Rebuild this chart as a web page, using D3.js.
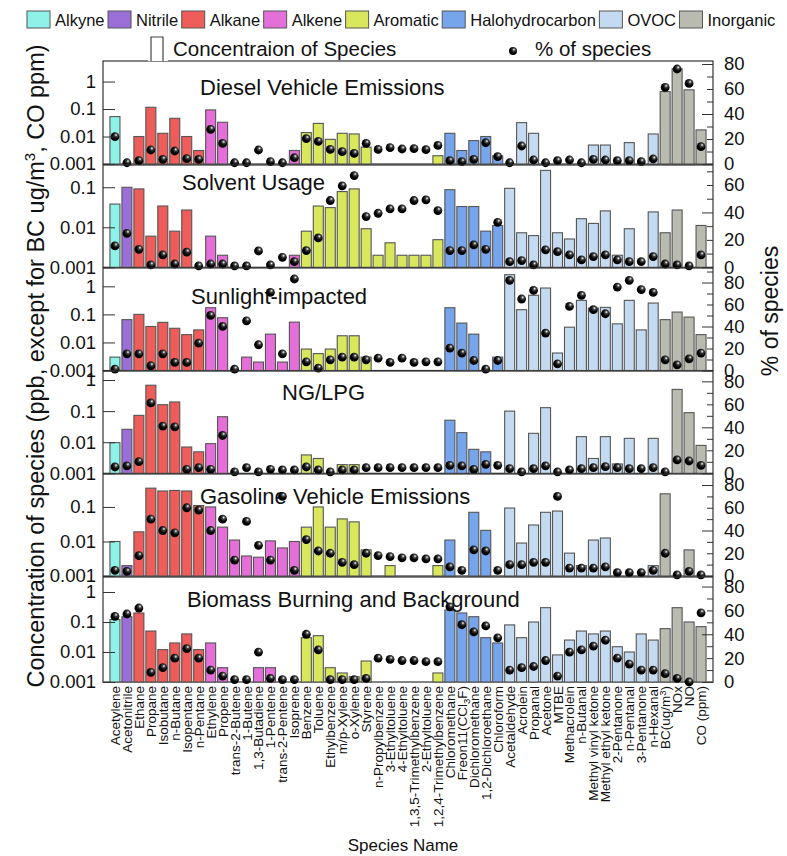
<!DOCTYPE html>
<html lang="en">
<head>
<meta charset="UTF-8">
<title>Source profiles - concentration and % of species</title>
<script src="https://cdn.jsdelivr.net/npm/d3@7/dist/d3.min.js"></script>
<style>
    body{margin:0;background:#fff;}
    text{font-family:"Liberation Sans",Arial,sans-serif;fill:#111;}
</style>
</head>
<body>
<div class="container"></div>
<script>
////////////////////////////////////////////////////////////////
/*                    Data                                   */
////////////////////////////////////////////////////////////////
const species = ["Acetylene","Acetonitrile","Ethane","Propane","Isobutane","n-Butane","Isopentane","n-Pentane",
    "Ethylene","Propene","trans-2-Butene","1-Butene","1,3-Butadiene","1-Pentene","trans-2-Pentene","Isoprene",
    "Benzene","Toluene","Ethylbenzene","m/p-Xylene","o-Xylene","Styrene","n-Propylbenzene","3-Ethyltoluene",
    "4-Ethyltoluene","1,3,5-Trimethylbenzene","2-Ethyltoluene","1,2,4-Trimethylbenzene",
    "Chloromethane","Freon11(CCl3F)","Dichloromethane","1,2-Dichloroethane","Chloroform",
    "Acetaldehyde","Acrolein","Propanal","Acetone","MTBE","Methacrolein","n-Butanal","Methyl vinyl ketone",
    "Methyl ethyl ketone","2-Pentanone","n-Pentanal","3-Pentanone","n-Hexanal",
    "BC(ug/m3)","NOx","NO","CO (ppm)"]
const groups = ["Alkyne","Nitrile","Alkane","Alkene","Aromatic","Halohydrocarbon","OVOC","Inorganic"]
const groupSizes = [1,1,6,8,12,5,13,4]
const groupColors = ["#8ff2e8","#9a6fd8","#ee5d5a","#e56fd8","#d9e75c","#76a5ec","#c4daf0","#b9bbb1"]

const panelNames = ["Diesel Vehicle Emissions","Solvent Usage","Sunlight-impacted","NG/LPG",
    "Gasoline Vehicle Emissions","Biomass Burning and Background"]

// concentration (ppb; BC ug/m3; CO ppm), null = no bar
const dieselConc = [0.053,null,0.01,0.116,0.0131,0.046,0.01,0.0031,0.093,0.033,null,null,null,null,null,0.0031,
    0.0139,0.03,0.0079,0.0131,0.0124,0.0041,null,null,null,null,null,0.002,
    0.0131,0.0031,0.0071,0.01,0.002,
    null,0.032,0.0131,null,null,null,null,0.0049,0.0049,null,0.006,null,0.0124,
    0.43,2.9,0.5,0.0174]
const dieselPct = [21.9,1,2.7,11.2,3.7,10.4,4.3,3.7,27.7,16.5,1,1,11.2,1.9,1,5,
    20.3,18.1,11.7,9.9,8.5,16.5,11.7,13.1,12,12.3,11.5,14.9,
    2.7,1.9,3.7,17,5.9,
    1,14.4,3.2,1,2.7,3.2,1,3.7,3.2,2.7,2.7,1.9,4,
    61.3,76,64.5,13.9]

const solventConc = [0.038,0.1,0.091,0.006,0.034,0.008,0.027,null,0.006,0.002,null,null,null,null,null,0.002,
    0.008,0.034,0.031,0.078,0.091,0.0092,0.002,0.0041,0.002,0.002,0.002,0.0049,
    0.087,0.033,0.033,0.008,0.0111,
    0.094,0.0073,0.0062,0.264,0.0073,0.0051,0.0164,0.0125,0.0257,0.002,0.0092,null,0.0242,
    0.0073,0.027,null,0.0111]
const solventPct = [15.6,24.8,13.1,1.7,9,2.4,11,1,2.4,2.4,1,1,11.9,1.7,7.3,4.1,
    12.2,21.4,48.7,59.4,66.9,37,39.4,42.6,42.6,48.7,49.1,41.4,
    12.2,12.2,16.3,13.1,32.8,
    4.1,4.9,1.7,12.7,11.4,9,5.4,7.8,9,5.4,4.1,4.1,7.8,
    2.4,1.7,1,9]

const sunlightConc = [0.003,0.065,0.1,0.037,0.052,0.032,0.019,0.028,0.173,0.076,null,0.003,0.002,0.0198,0.002,0.053,
    0.0058,0.004,0.0058,0.0173,0.0173,0.003,null,null,null,null,null,null,
    0.173,0.049,0.0198,null,0.003,
    2.6,0.147,0.48,0.87,0.0042,0.035,0.316,0.168,0.178,0.046,0.316,0.028,0.254,
    0.065,0.121,0.08,0.019]
const sunlightPct = [1.2,15.2,15.2,4.3,15.2,7.3,7.3,24.9,50.1,40.1,1.2,45.2,23.4,71,15.2,83.2,
    7.9,2.1,9.7,12.1,12.1,9.7,11.2,7.3,11.2,7.3,7.9,7.9,
    20.3,15.8,9.1,1.2,9.1,
    82,65,72.9,34,6.1,58.3,68.3,55.3,51.6,75.9,82,73.5,71,
    9.7,5.2,10.6,15.8]

const nglpgConc = [0.0097,0.026,0.073,0.68,0.161,0.197,0.007,0.0049,0.009,0.066,null,null,null,null,null,null,
    0.0039,0.003,null,0.0019,0.0019,null,null,null,null,null,null,null,
    0.051,0.0203,0.0059,0.0049,null,
    0.1,null,0.0193,0.129,null,null,0.0151,0.003,0.0151,0.002,0.0133,null,0.0133,
    null,0.5,0.089,0.0079]
const nglpgPct = [5.5,6.4,10.1,61.2,41,40.4,3.5,4.9,3.5,32.9,1.2,4.9,1.2,3.5,2.9,2.9,
    5.5,2.9,1.2,2.9,2.9,4.9,4.9,4.9,4.9,4.9,4.9,4.9,
    6.9,6.4,3.5,7.8,6.9,
    4,1.2,4,6.4,1.2,2.9,4,4.9,5.8,4.9,4,4,4.9,
    1.2,11.6,10.7,6.9]

const gasolineConc = [0.01,0.002,0.019,0.35,0.29,0.3,0.29,0.11,0.1,0.026,0.011,0.0038,0.0035,0.0104,0.0065,0.01,
    0.026,0.1,0.026,0.045,0.037,0.0057,null,0.002,null,null,null,0.002,
    0.011,null,0.07,0.021,null,
    0.093,0.009,0.03,0.07,0.076,0.0046,0.002,0.011,0.0126,null,null,null,0.002,
    0.24,null,0.0057,null]
const gasolinePct = [5,4,18,50,40,38,60,58,40,50,14,48,27,14,70,5,
    32,22,20,12,10,20,18,17,16,16,15,15,
    8,5,23,22,5,
    10,10,12,12,70,7,7,7,8,3,3,3,5,
    20,1,4,1]

const biomassConc = [0.12,0.15,0.2,0.05,0.012,0.02,0.04,0.012,0.02,0.003,null,null,0.003,0.003,null,null,
    0.03,0.035,0.003,0.002,0.0015,0.005,null,null,null,null,null,0.002,
    0.25,0.2,0.15,0.03,0.02,
    0.08,0.03,0.1,0.3,0.008,0.025,0.05,0.04,0.05,0.015,0.01,0.04,0.025,
    0.06,0.3,0.1,0.07]
const biomassPct = [55,57,62,8,12,20,28,20,10,5,2,2,25,3,2,2,
    40,27,2,2,2,3,20,19,18,18,17,17,
    63,48,42,47,37,
    10,12,13,18,5,25,27,30,35,20,15,10,10,
    7,3,0,58]

const concSeries = [dieselConc,solventConc,sunlightConc,nglpgConc,gasolineConc,biomassConc]
const pctSeries = [dieselPct,solventPct,sunlightPct,nglpgPct,gasolinePct,biomassPct]

////////////////////////////////////////////////////////////////
/*                    Layout                                  */
////////////////////////////////////////////////////////////////
const W = 787, H = 856
const left = 103, right = 713
// panel frames [top, bottom], log top value, % top value
const panels = [
    {top:61, bottom:164, logMax:5.6, pctMax:82.4, titleX:200, titleY:95},
    {top:165, bottom:267.3, logMax:0.36, pctMax:74.6, titleX:182, titleY:190},
    {top:268, bottom:370.5, logMax:4.5, pctMax:93.2, titleX:191, titleY:304},
    {top:371, bottom:473.3, logMax:1.95, pctMax:89, titleX:282, titleY:400},
    {top:474, bottom:576, logMax:0.9, pctMax:89.7, titleX:200, titleY:504},
    {top:577, bottom:682, logMax:3.16, pctMax:88, titleX:187, titleY:607}
]

const svg = d3.select(".container").append("svg")
    .attr("width",W).attr("height",H)

const defs = svg.append("defs")
const grad = defs.append("radialGradient").attr("id","ball")
    .attr("cx","62%").attr("cy","32%").attr("r","70%")
grad.append("stop").attr("offset","0%").attr("stop-color","#ffffff")
grad.append("stop").attr("offset","25%").attr("stop-color","#444")
grad.append("stop").attr("offset","60%").attr("stop-color","#000")

// group index per species
const groupIdx = []
groupSizes.forEach((n,g)=>{ for(let k=0;k<n;k++) groupIdx.push(g) })

const x = d3.scaleLinear().domain([0,species.length+1]).range([left,right])
const barW = 10

panels.forEach((p,pi)=>{
    const y = d3.scaleLog().domain([0.001,p.logMax]).range([p.bottom,p.top])
    const yr = d3.scaleLinear().domain([0,p.pctMax]).range([p.bottom,p.top])
    const g = svg.append("g").attr("class","panel")

    g.append("rect").attr("x",left).attr("y",p.top)
        .attr("width",right-left).attr("height",p.bottom-p.top)
        .attr("fill","none").attr("stroke","#333").attr("stroke-width",1.2)

    // bars
    g.selectAll("rect.bar")
        .data(concSeries[pi].map((v,i)=>({v,i})).filter(d=>d.v!==null))
        .join("rect").attr("class","bar")
        .attr("x",d=>x(d.i+1)-barW/2)
        .attr("width",barW)
        .attr("y",d=>y(d.v))
        .attr("height",d=>p.bottom-y(d.v))
        .attr("fill",d=>groupColors[groupIdx[d.i]])
        .attr("stroke","#555").attr("stroke-width",1.1)

    // title
    g.append("text").attr("x",p.titleX).attr("y",p.titleY)
        .style("font-size","22px").text(panelNames[pi])

    // dots
    g.selectAll("circle")
        .data(pctSeries[pi])
        .join("circle")
        .attr("cx",(d,i)=>x(i+1))
        .attr("cy",d=>yr(d))
        .attr("r",4.4)
        .attr("fill","url(#ball)")

    // left axis
    const decades = [0.001,0.01,0.1,1,10].filter(v=>v<=p.logMax)
    const la = g.append("g").attr("transform",`translate(${left},0)`)
        .call(d3.axisLeft(y).tickValues(decades).tickFormat(d3.format("~g"))
            .tickSizeInner(-12).tickSizeOuter(0).tickPadding(7))
    la.select(".domain").remove()
    la.selectAll("line").attr("stroke","#333")
    la.selectAll("text").style("font-size","18.5px").attr("fill","#111")

    // right axis
    const ra = g.append("g").attr("transform",`translate(${right},0)`)
        .call(d3.axisRight(yr).tickValues(d3.range(0,p.pctMax,10))
            .tickFormat(d=>d%20===0?d:"")
            .tickSizeInner(-6).tickSizeOuter(0).tickPadding(11))
    ra.select(".domain").remove()
    ra.selectAll("line").attr("stroke","#333")
        .attr("x2",d=>d%40===0?-11:-6)
    ra.selectAll("text").style("font-size","18.5px").attr("fill","#111")
})

// species labels
const lab = svg.append("g").selectAll("text")
    .data(species).join("text")
    .attr("transform",(d,i)=>`translate(${x(i+1)+5},686)rotate(-90)`)
    .attr("text-anchor","end")
    .style("font-size","13.5px")
lab.each(function(d){
    const t = d3.select(this)
    if(d.startsWith("Freon11")){
        t.append("tspan").text("Freon11(CCl")
        t.append("tspan").attr("dy",3).style("font-size","9.5px").text("3")
        t.append("tspan").attr("dy",-3).text("F)")
    } else if(d.startsWith("BC")){
        t.append("tspan").text("BC(ug/m")
        t.append("tspan").attr("dy",-4).style("font-size","9.5px").text("3")
        t.append("tspan").attr("dy",4).text(")")
    } else t.text(d)
})

svg.append("text").attr("x",403).attr("y",851).attr("text-anchor","middle")
    .style("font-size","17px").text("Species Name")

// axis titles
const yt = svg.append("text")
    .attr("transform","translate(44,366)rotate(-90)")
    .attr("text-anchor","middle").style("font-size","23.5px")
yt.append("tspan").text("Concentration of species (ppb, except for BC ug/m")
yt.append("tspan").attr("dy",-9).style("font-size","15px").text("3")
yt.append("tspan").attr("dy",9).text(", CO ppm)")

svg.append("text").attr("transform","translate(778,311)rotate(-90)")
    .attr("text-anchor","middle").style("font-size","23px").text("% of species")

// legend row 1
let lx = 27
const leg = svg.append("g")
groups.forEach((name,gi)=>{
    leg.append("rect").attr("x",lx).attr("y",11).attr("width",23).attr("height",17)
        .attr("fill",groupColors[gi]).attr("stroke","#555")
    const t = leg.append("text").attr("x",lx+28).attr("y",26).style("font-size","16.5px").text(name)
    lx = lx + 28 + t.node().getComputedTextLength() + 3.5
})

// legend row 2
svg.append("rect").attr("x",148).attr("y",35).attr("width",20).attr("height",26).attr("fill","#fff")
svg.append("path").attr("d","M151,61V37H163V61").attr("fill","none").attr("stroke","#444").attr("stroke-width",1.2)
svg.append("text").attr("x",173).attr("y",56).style("font-size","20.5px").text("Concentraion of Species")
svg.append("circle").attr("cx",513).attr("cy",51).attr("r",4).attr("fill","url(#ball)")
svg.append("text").attr("x",535).attr("y",56).style("font-size","20.5px").text("% of species")
</script>
</body>
</html>
